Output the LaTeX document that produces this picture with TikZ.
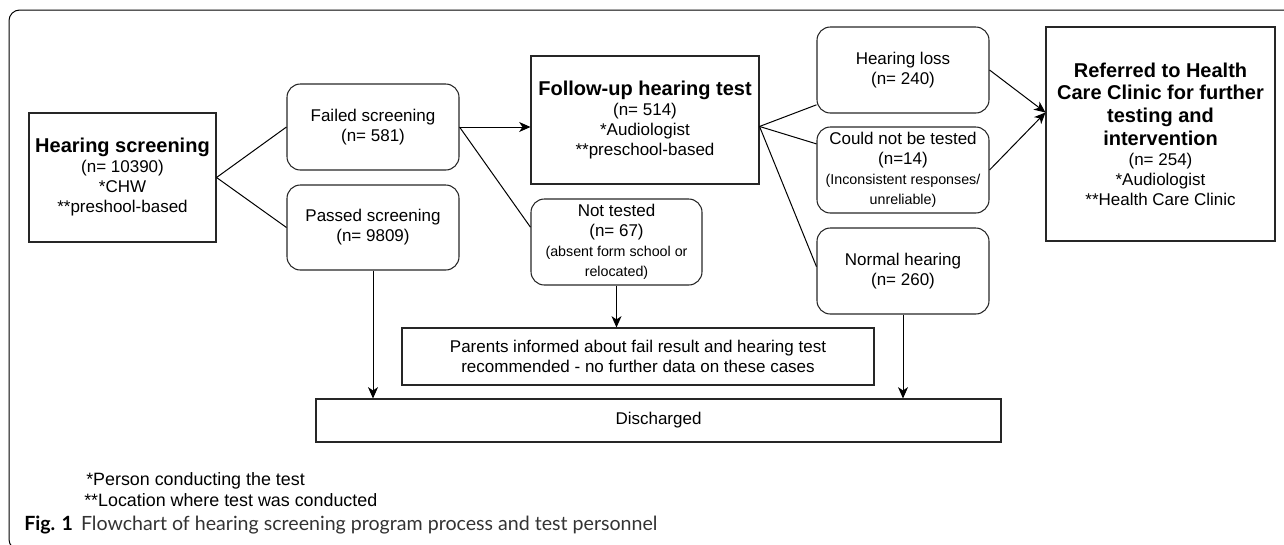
\documentclass[tikz,border=0pt]{standalone}
\usepackage{fontspec}
\setmainfont{Liberation Sans}
\newfontfamily\capfont{Lato}
\usetikzlibrary{arrows.meta,calc}
\newcommand\nf{\fontsize{12.75}{15}\selectfont}
\newcommand\bigb{\fontsize{15}{17}\selectfont\bfseries}
\newcommand\smf{\fontsize{10.7}{15}\selectfont}
\tikzset{
  base/.style={draw=black!85, line width=0.8pt, align=center, inner sep=0pt, font=\nf},
  sq/.style={base},
  rnd/.style={base, rounded corners=10pt},
  con/.style={line width=0.75pt, draw=black},
  arr/.style={con, -{Stealth[length=8.5pt,width=7.5pt,inset=2.5pt]}},
  foot/.style={anchor=west, inner sep=0pt, font=\fontsize{13.4}{15}\selectfont}
}
\begin{document}
\begin{tikzpicture}[x=0.75pt,y=-0.75pt]
\useasboundingbox (0,0) rectangle (1284,544);
\begin{scope}
  \clip (0,0) rectangle (1284,544);
  \draw[line width=0.75pt, rounded corners=8pt] (9,10) rectangle (1300,550);
\end{scope}

% nodes
\node[sq, minimum width=140.25pt, minimum height=96.75pt] (hs) at (122.5,177.5)
  {{\bigb Hearing screening}\\(n= 10390)\\*CHW\\**preshool-based};
\node[rnd, minimum width=129pt, minimum height=64.5pt] (fs) at (373,127) {Failed screening\\(n= 581)};
\node[rnd, minimum width=129pt, minimum height=63.75pt] (ps) at (373,227.5) {Passed screening\\(n= 9809)};
\node[sq, minimum width=171pt, minimum height=96pt] (fu) at (645,120)
  {{\bigb Follow-up hearing test}\\(n= 514)\\*Audiologist\\**preschool-based};
\node[rnd, minimum width=128.25pt, minimum height=64.5pt] (nt) at (616.5,242)
  {Not tested\\(n= 67)\\{\smf (absent form school or}\\{\smf relocated)}};
\node[rnd, minimum width=129pt, minimum height=64.5pt] (hl) at (903,70) {Hearing loss\\(n= 240)};
\node[rnd, minimum width=129pt, minimum height=64.5pt] (cn) at (903,170)
  {Could not be tested\\(n=14)\\{\smf (Inconsistent responses/}\\{\smf unreliable)}};
\node[rnd, minimum width=129pt, minimum height=64.5pt] (nh) at (903,271) {Normal hearing\\(n= 260)};
\node[sq, minimum width=171.75pt, minimum height=160.5pt] (rf) at (1160.5,134)
  {{\bigb Referred to Health}\\[2pt]{\bigb Care Clinic for further}\\[2pt]{\bigb testing and}\\[2pt]{\bigb intervention}\\(n= 254)\\*Audiologist\\**Health Care Clinic};
\node[sq, minimum width=354pt, minimum height=42.75pt] (pa) at (638,356.5)
  {Parents informed about fail result and hearing test\\recommended - no further data on these cases};
\node[sq, minimum width=513.75pt, minimum height=32.25pt] (dc) at (658.5,420.5) {Discharged};

% footnotes and caption
\node[foot] (f1) at (86,481) {*Person conducting the test};
\node[foot] (f2) at (84,500) {**Location where test was conducted};
\node[anchor=west, inner sep=0pt] (cap) at (24,525)
  {\capfont\fontsize{14.7}{17}\selectfont\textbf{Fig. 1}\hspace{6pt}{\color{black!80}Flowchart of hearing screening program process and test personnel}};

% connectors
\coordinate (ntin) at ($(nt.north west)!0.33!(nt.south west)$);
\coordinate (fuout) at ($(fu.north east)!0.55!(fu.south east)$);
\coordinate (hlin) at ($(hl.south west)!0.1!(hl.north west)$);
\coordinate (cnin) at ($(cn.north west)!0.2!(cn.south west)$);
\coordinate (nhin) at ($(nh.north west)!0.45!(nh.south west)$);
\coordinate (rfin) at ($(rf.north west)!0.4!(rf.south west)$);

\draw[con] (hs.east) -- (fs.west);
\draw[con] (hs.east) -- (ps.west);
\draw[arr] (fs.east) -- (fs.east -| fu.west);
\draw[con] (fs.east) -- (ntin);
\draw[con] (fuout) -- (hlin);
\draw[con] (fuout) -- (cnin);
\draw[con] (fuout) -- (nhin);
\draw[arr] (hl.east) -- (rfin);
\draw[arr] (cn.east) -- (rfin);
\draw[arr] (nt.south) -- (nt.south |- pa.north);
\draw[arr] (ps.south) -- (ps.south |- dc.north);
\draw[arr] (nh.south) -- (nh.south |- dc.north);
\end{tikzpicture}
\end{document}
